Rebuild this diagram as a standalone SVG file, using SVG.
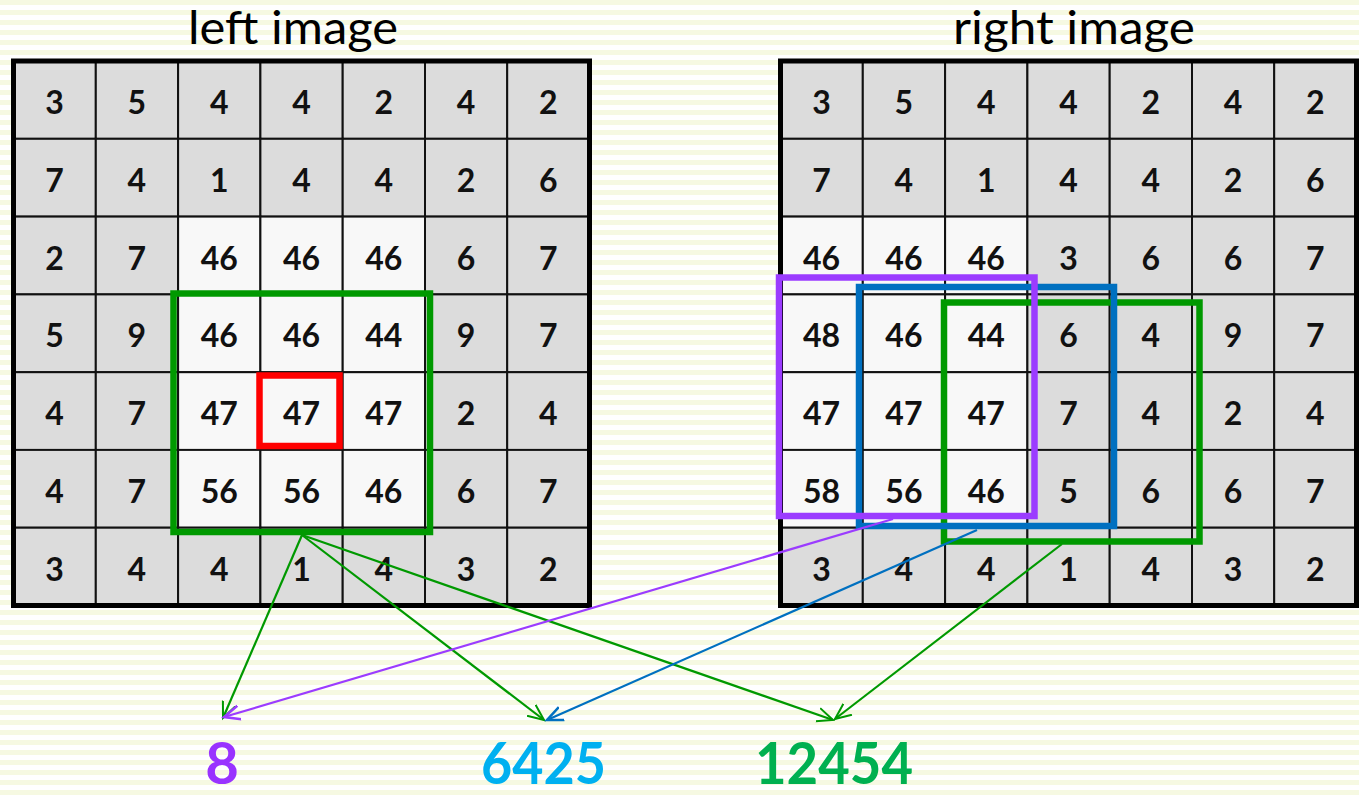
<svg xmlns="http://www.w3.org/2000/svg" width="1359" height="796" viewBox="0 0 1359 796">
<defs>
<pattern id="stripes" width="10" height="10" patternUnits="userSpaceOnUse">
<rect width="10" height="10" fill="#ffffff"/>
<rect width="10" height="5" fill="#f6f9e2"/>
</pattern>
<marker id="ah-green" markerWidth="20" markerHeight="20" refX="16" refY="8" orient="auto" markerUnits="userSpaceOnUse" viewBox="0 0 20 16">
<path d="M0,1 L16,8 L0,15" fill="none" stroke="#009900" stroke-width="2"/>
</marker>
<marker id="ah-purple" markerWidth="20" markerHeight="20" refX="16" refY="8" orient="auto" markerUnits="userSpaceOnUse" viewBox="0 0 20 16">
<path d="M0,1 L16,8 L0,15" fill="none" stroke="#9b3cff" stroke-width="2.5"/>
</marker>
<marker id="ah-blue" markerWidth="20" markerHeight="20" refX="16" refY="8" orient="auto" markerUnits="userSpaceOnUse" viewBox="0 0 20 16">
<path d="M0,1 L16,8 L0,15" fill="none" stroke="#0070c0" stroke-width="2.5"/>
</marker>
</defs>
<style>
.g{fill:#dcdcdc;stroke:#111;stroke-width:2}
.w{fill:#f8f8f8;stroke:#111;stroke-width:2}
.n{font-family:Lato,"Open Sans",sans-serif;font-weight:700;font-size:32px;fill:#111;text-anchor:middle}
.frame{fill:none;stroke:#000;stroke-width:5}
.title{font-family:Lato,"Open Sans",sans-serif;font-size:46px;fill:#000;text-anchor:middle}
.res{font-family:Lato,"Open Sans",sans-serif;font-weight:700;font-size:58px;text-anchor:middle}
.box{fill:none;stroke-width:6.5}
.conn{fill:none;stroke-width:2.2}
</style>
<rect width="1359" height="796" fill="url(#stripes)"/>

<g id="title-left"><text class="title" x="293" y="44" textLength="210" lengthAdjust="spacingAndGlyphs">left image</text></g>
<g id="title-right"><text class="title" x="1074" y="44" textLength="242" lengthAdjust="spacingAndGlyphs">right image</text></g>

<g id="left-image">
<rect class="g" x="13.5" y="61" width="82.3" height="77.8"/><text class="n" x="54.6" y="113.9">3</text>
<rect class="g" x="95.8" y="61" width="82.3" height="77.8"/><text class="n" x="136.9" y="113.9">5</text>
<rect class="g" x="178.1" y="61" width="82.3" height="77.8"/><text class="n" x="219.2" y="113.9">4</text>
<rect class="g" x="260.4" y="61" width="82.3" height="77.8"/><text class="n" x="301.5" y="113.9">4</text>
<rect class="g" x="342.7" y="61" width="82.3" height="77.8"/><text class="n" x="383.8" y="113.9">2</text>
<rect class="g" x="425.0" y="61" width="82.3" height="77.8"/><text class="n" x="466.1" y="113.9">4</text>
<rect class="g" x="507.2" y="61" width="82.3" height="77.8"/><text class="n" x="548.4" y="113.9">2</text>

<rect class="g" x="13.5" y="138.8" width="82.3" height="77.8"/><text class="n" x="54.6" y="191.7">7</text>
<rect class="g" x="95.8" y="138.8" width="82.3" height="77.8"/><text class="n" x="136.9" y="191.7">4</text>
<rect class="g" x="178.1" y="138.8" width="82.3" height="77.8"/><text class="n" x="219.2" y="191.7">1</text>
<rect class="g" x="260.4" y="138.8" width="82.3" height="77.8"/><text class="n" x="301.5" y="191.7">4</text>
<rect class="g" x="342.7" y="138.8" width="82.3" height="77.8"/><text class="n" x="383.8" y="191.7">4</text>
<rect class="g" x="425.0" y="138.8" width="82.3" height="77.8"/><text class="n" x="466.1" y="191.7">2</text>
<rect class="g" x="507.2" y="138.8" width="82.3" height="77.8"/><text class="n" x="548.4" y="191.7">6</text>

<rect class="g" x="13.5" y="216.6" width="82.3" height="77.8"/><text class="n" x="54.6" y="269.5">2</text>
<rect class="g" x="95.8" y="216.6" width="82.3" height="77.8"/><text class="n" x="136.9" y="269.5">7</text>
<rect class="w" x="178.1" y="216.6" width="82.3" height="77.8"/><text class="n" x="219.2" y="269.5">46</text>
<rect class="w" x="260.4" y="216.6" width="82.3" height="77.8"/><text class="n" x="301.5" y="269.5">46</text>
<rect class="w" x="342.7" y="216.6" width="82.3" height="77.8"/><text class="n" x="383.8" y="269.5">46</text>
<rect class="g" x="425.0" y="216.6" width="82.3" height="77.8"/><text class="n" x="466.1" y="269.5">6</text>
<rect class="g" x="507.2" y="216.6" width="82.3" height="77.8"/><text class="n" x="548.4" y="269.5">7</text>

<rect class="g" x="13.5" y="294.4" width="82.3" height="77.8"/><text class="n" x="54.6" y="347.3">5</text>
<rect class="g" x="95.8" y="294.4" width="82.3" height="77.8"/><text class="n" x="136.9" y="347.3">9</text>
<rect class="w" x="178.1" y="294.4" width="82.3" height="77.8"/><text class="n" x="219.2" y="347.3">46</text>
<rect class="w" x="260.4" y="294.4" width="82.3" height="77.8"/><text class="n" x="301.5" y="347.3">46</text>
<rect class="w" x="342.7" y="294.4" width="82.3" height="77.8"/><text class="n" x="383.8" y="347.3">44</text>
<rect class="g" x="425.0" y="294.4" width="82.3" height="77.8"/><text class="n" x="466.1" y="347.3">9</text>
<rect class="g" x="507.2" y="294.4" width="82.3" height="77.8"/><text class="n" x="548.4" y="347.3">7</text>

<rect class="g" x="13.5" y="372.2" width="82.3" height="77.8"/><text class="n" x="54.6" y="425.0">4</text>
<rect class="g" x="95.8" y="372.2" width="82.3" height="77.8"/><text class="n" x="136.9" y="425.0">7</text>
<rect class="w" x="178.1" y="372.2" width="82.3" height="77.8"/><text class="n" x="219.2" y="425.0">47</text>
<rect class="w" x="260.4" y="372.2" width="82.3" height="77.8"/><text class="n" x="301.5" y="425.0">47</text>
<rect class="w" x="342.7" y="372.2" width="82.3" height="77.8"/><text class="n" x="383.8" y="425.0">47</text>
<rect class="g" x="425.0" y="372.2" width="82.3" height="77.8"/><text class="n" x="466.1" y="425.0">2</text>
<rect class="g" x="507.2" y="372.2" width="82.3" height="77.8"/><text class="n" x="548.4" y="425.0">4</text>

<rect class="g" x="13.5" y="449.9" width="82.3" height="77.8"/><text class="n" x="54.6" y="502.8">4</text>
<rect class="g" x="95.8" y="449.9" width="82.3" height="77.8"/><text class="n" x="136.9" y="502.8">7</text>
<rect class="w" x="178.1" y="449.9" width="82.3" height="77.8"/><text class="n" x="219.2" y="502.8">56</text>
<rect class="w" x="260.4" y="449.9" width="82.3" height="77.8"/><text class="n" x="301.5" y="502.8">56</text>
<rect class="w" x="342.7" y="449.9" width="82.3" height="77.8"/><text class="n" x="383.8" y="502.8">46</text>
<rect class="g" x="425.0" y="449.9" width="82.3" height="77.8"/><text class="n" x="466.1" y="502.8">6</text>
<rect class="g" x="507.2" y="449.9" width="82.3" height="77.8"/><text class="n" x="548.4" y="502.8">7</text>

<rect class="g" x="13.5" y="527.7" width="82.3" height="77.8"/><text class="n" x="54.6" y="580.6">3</text>
<rect class="g" x="95.8" y="527.7" width="82.3" height="77.8"/><text class="n" x="136.9" y="580.6">4</text>
<rect class="g" x="178.1" y="527.7" width="82.3" height="77.8"/><text class="n" x="219.2" y="580.6">4</text>
<rect class="g" x="260.4" y="527.7" width="82.3" height="77.8"/><text class="n" x="301.5" y="580.6">1</text>
<rect class="g" x="342.7" y="527.7" width="82.3" height="77.8"/><text class="n" x="383.8" y="580.6">4</text>
<rect class="g" x="425.0" y="527.7" width="82.3" height="77.8"/><text class="n" x="466.1" y="580.6">3</text>
<rect class="g" x="507.2" y="527.7" width="82.3" height="77.8"/><text class="n" x="548.4" y="580.6">2</text>
<rect class="frame" x="13.5" y="61" width="576" height="544.5"/>
</g>

<g id="right-image">
<rect class="g" x="780.5" y="61" width="82.3" height="77.8"/><text class="n" x="821.6" y="113.9">3</text>
<rect class="g" x="862.8" y="61" width="82.3" height="77.8"/><text class="n" x="903.9" y="113.9">5</text>
<rect class="g" x="945.1" y="61" width="82.3" height="77.8"/><text class="n" x="986.2" y="113.9">4</text>
<rect class="g" x="1027.4" y="61" width="82.3" height="77.8"/><text class="n" x="1068.5" y="113.9">4</text>
<rect class="g" x="1109.7" y="61" width="82.3" height="77.8"/><text class="n" x="1150.8" y="113.9">2</text>
<rect class="g" x="1192.0" y="61" width="82.3" height="77.8"/><text class="n" x="1233.1" y="113.9">4</text>
<rect class="g" x="1274.2" y="61" width="82.3" height="77.8"/><text class="n" x="1315.4" y="113.9">2</text>

<rect class="g" x="780.5" y="138.8" width="82.3" height="77.8"/><text class="n" x="821.6" y="191.7">7</text>
<rect class="g" x="862.8" y="138.8" width="82.3" height="77.8"/><text class="n" x="903.9" y="191.7">4</text>
<rect class="g" x="945.1" y="138.8" width="82.3" height="77.8"/><text class="n" x="986.2" y="191.7">1</text>
<rect class="g" x="1027.4" y="138.8" width="82.3" height="77.8"/><text class="n" x="1068.5" y="191.7">4</text>
<rect class="g" x="1109.7" y="138.8" width="82.3" height="77.8"/><text class="n" x="1150.8" y="191.7">4</text>
<rect class="g" x="1192.0" y="138.8" width="82.3" height="77.8"/><text class="n" x="1233.1" y="191.7">2</text>
<rect class="g" x="1274.2" y="138.8" width="82.3" height="77.8"/><text class="n" x="1315.4" y="191.7">6</text>

<rect class="w" x="780.5" y="216.6" width="82.3" height="77.8"/><text class="n" x="821.6" y="269.5">46</text>
<rect class="w" x="862.8" y="216.6" width="82.3" height="77.8"/><text class="n" x="903.9" y="269.5">46</text>
<rect class="w" x="945.1" y="216.6" width="82.3" height="77.8"/><text class="n" x="986.2" y="269.5">46</text>
<rect class="g" x="1027.4" y="216.6" width="82.3" height="77.8"/><text class="n" x="1068.5" y="269.5">3</text>
<rect class="g" x="1109.7" y="216.6" width="82.3" height="77.8"/><text class="n" x="1150.8" y="269.5">6</text>
<rect class="g" x="1192.0" y="216.6" width="82.3" height="77.8"/><text class="n" x="1233.1" y="269.5">6</text>
<rect class="g" x="1274.2" y="216.6" width="82.3" height="77.8"/><text class="n" x="1315.4" y="269.5">7</text>

<rect class="w" x="780.5" y="294.4" width="82.3" height="77.8"/><text class="n" x="821.6" y="347.3">48</text>
<rect class="w" x="862.8" y="294.4" width="82.3" height="77.8"/><text class="n" x="903.9" y="347.3">46</text>
<rect class="w" x="945.1" y="294.4" width="82.3" height="77.8"/><text class="n" x="986.2" y="347.3">44</text>
<rect class="g" x="1027.4" y="294.4" width="82.3" height="77.8"/><text class="n" x="1068.5" y="347.3">6</text>
<rect class="g" x="1109.7" y="294.4" width="82.3" height="77.8"/><text class="n" x="1150.8" y="347.3">4</text>
<rect class="g" x="1192.0" y="294.4" width="82.3" height="77.8"/><text class="n" x="1233.1" y="347.3">9</text>
<rect class="g" x="1274.2" y="294.4" width="82.3" height="77.8"/><text class="n" x="1315.4" y="347.3">7</text>

<rect class="w" x="780.5" y="372.2" width="82.3" height="77.8"/><text class="n" x="821.6" y="425.0">47</text>
<rect class="w" x="862.8" y="372.2" width="82.3" height="77.8"/><text class="n" x="903.9" y="425.0">47</text>
<rect class="w" x="945.1" y="372.2" width="82.3" height="77.8"/><text class="n" x="986.2" y="425.0">47</text>
<rect class="g" x="1027.4" y="372.2" width="82.3" height="77.8"/><text class="n" x="1068.5" y="425.0">7</text>
<rect class="g" x="1109.7" y="372.2" width="82.3" height="77.8"/><text class="n" x="1150.8" y="425.0">4</text>
<rect class="g" x="1192.0" y="372.2" width="82.3" height="77.8"/><text class="n" x="1233.1" y="425.0">2</text>
<rect class="g" x="1274.2" y="372.2" width="82.3" height="77.8"/><text class="n" x="1315.4" y="425.0">4</text>

<rect class="w" x="780.5" y="449.9" width="82.3" height="77.8"/><text class="n" x="821.6" y="502.8">58</text>
<rect class="w" x="862.8" y="449.9" width="82.3" height="77.8"/><text class="n" x="903.9" y="502.8">56</text>
<rect class="w" x="945.1" y="449.9" width="82.3" height="77.8"/><text class="n" x="986.2" y="502.8">46</text>
<rect class="g" x="1027.4" y="449.9" width="82.3" height="77.8"/><text class="n" x="1068.5" y="502.8">5</text>
<rect class="g" x="1109.7" y="449.9" width="82.3" height="77.8"/><text class="n" x="1150.8" y="502.8">6</text>
<rect class="g" x="1192.0" y="449.9" width="82.3" height="77.8"/><text class="n" x="1233.1" y="502.8">6</text>
<rect class="g" x="1274.2" y="449.9" width="82.3" height="77.8"/><text class="n" x="1315.4" y="502.8">7</text>

<rect class="g" x="780.5" y="527.7" width="82.3" height="77.8"/><text class="n" x="821.6" y="580.6">3</text>
<rect class="g" x="862.8" y="527.7" width="82.3" height="77.8"/><text class="n" x="903.9" y="580.6">4</text>
<rect class="g" x="945.1" y="527.7" width="82.3" height="77.8"/><text class="n" x="986.2" y="580.6">4</text>
<rect class="g" x="1027.4" y="527.7" width="82.3" height="77.8"/><text class="n" x="1068.5" y="580.6">1</text>
<rect class="g" x="1109.7" y="527.7" width="82.3" height="77.8"/><text class="n" x="1150.8" y="580.6">4</text>
<rect class="g" x="1192.0" y="527.7" width="82.3" height="77.8"/><text class="n" x="1233.1" y="580.6">3</text>
<rect class="g" x="1274.2" y="527.7" width="82.3" height="77.8"/><text class="n" x="1315.4" y="580.6">2</text>
<rect class="frame" x="780.5" y="61" width="576" height="544.5"/>
</g>

<g id="left-window"><rect class="box" x="173.5" y="293.5" width="256.5" height="238.5" stroke="#009900"/></g>
<g id="left-center"><rect class="box" x="259.5" y="375.5" width="80" height="70.5" stroke="#ff0000"/></g>
<g id="right-window-green"><rect class="box" x="944" y="302.5" width="255.5" height="239" stroke="#009900"/></g>
<g id="right-window-blue"><rect class="box" x="859" y="287" width="255" height="239" stroke="#0070c0"/></g>
<g id="right-window-purple"><rect class="box" x="779" y="277.5" width="255.5" height="238.5" stroke="#9b3cff"/></g>

<g id="connectors">
<line class="conn" x1="302" y1="535" x2="223" y2="718" stroke="#009900" marker-end="url(#ah-green)"/>
<line class="conn" x1="302" y1="535" x2="544" y2="720" stroke="#009900" marker-end="url(#ah-green)"/>
<line class="conn" x1="302" y1="535" x2="833" y2="720" stroke="#009900" marker-end="url(#ah-green)"/>
<line class="conn" x1="893" y1="519" x2="224" y2="717" stroke="#9b3cff" stroke-width="2.5" marker-end="url(#ah-purple)"/>
<line class="conn" x1="977" y1="530" x2="547" y2="720" stroke="#0070c0" stroke-width="2.5" marker-end="url(#ah-blue)"/>
<line class="conn" x1="1062" y1="544" x2="835" y2="719" stroke="#009900" marker-end="url(#ah-green)"/>
</g>

<g id="result-purple"><text class="res" x="222" y="784" fill="#9933ff">8</text></g>
<g id="result-blue"><text class="res" x="543.5" y="784" fill="#00b0f0" textLength="125" lengthAdjust="spacingAndGlyphs">6425</text></g>
<g id="result-green"><text class="res" x="834" y="784" fill="#00b050" textLength="158" lengthAdjust="spacingAndGlyphs">12454</text></g>
</svg>
